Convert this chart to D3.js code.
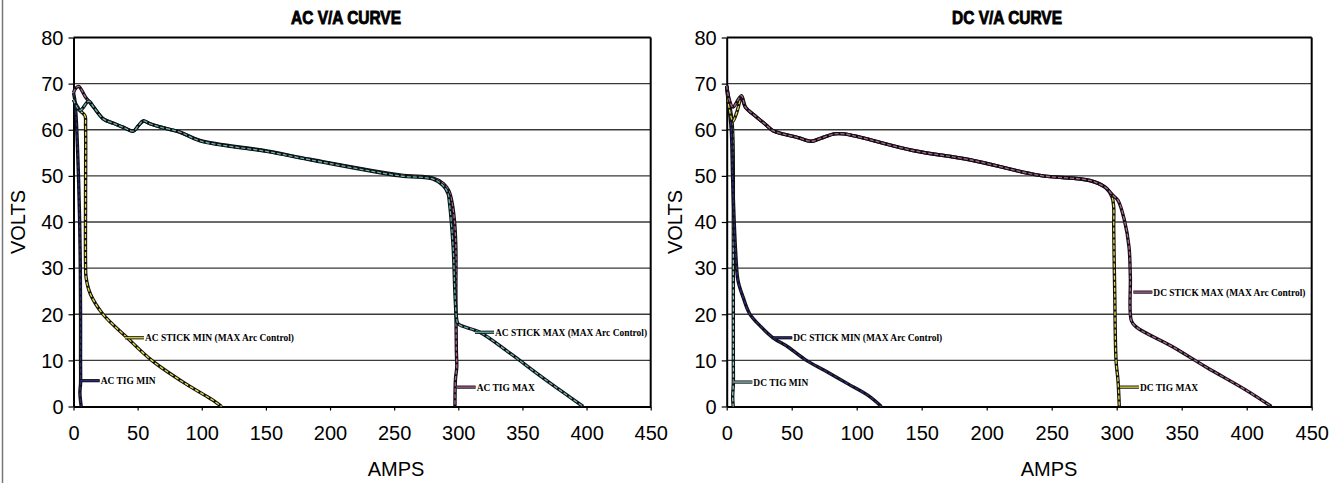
<!DOCTYPE html>
<html>
<head>
<meta charset="utf-8">
<script src="https://cdn.jsdelivr.net/npm/d3@7"></script>
<style>
  html, body { margin: 0; padding: 0; background: #fff; }
  svg { display: block; }
  .tick text { font-family: "Liberation Sans", Arial, sans-serif; font-size: 20px; fill: #000; }
</style>
</head>
<body>
<svg id="chart" width="1344" height="483"></svg>
<script>
// Axis ticks shared by both panels
const ampTicks = [0, 50, 100, 150, 200, 250, 300, 350, 400, 450];
const voltTicks = [0, 10, 20, 30, 40, 50, 60, 70, 80];

// AC panel — [amps, volts]
const acTigMin = [[0,68],[1,66.5],[2,63],[3,57],[4,49],[4.8,40],[5.3,30],[5.5,20],[5.5,10],[5.5,5],[5,3],[6,0]];
const acStickMin = [[0,66.5],[5,64.2],[9,63],[9.4,61],[9.4,45],[9.4,31],[9.8,28],[13,24.5],[23,20],[41.5,15],[61,10],[87,5],[105,2],[108,1.5],[115.5,0]];
const acTigMax = [[0,68],[1.5,68.9],[4,69.4],[9.3,67.1],[11.9,66.2],[15.7,64.9],[23.5,62.3],[31.2,61.4],[39,60.5],[46.7,59.7],[50.6,60.9],[54.5,61.9],[59.6,61.3],[67.4,60.6],[82.9,59.5],[98.6,57.7],[150.6,55.4],[184.3,53.6],[254.5,50.2],[280.4,49.5],[288.5,48.3],[292.5,46.8],[294.8,44.7],[297,40.3],[298.1,34.5],[298.1,24.4],[298.5,12],[298.8,8.5],[297.8,6],[297.4,0]];
const acStickMax = [[0,66.5],[5,64.2],[11.9,66.2],[15.7,64.9],[23.5,62.3],[31.2,61.4],[39,60.5],[46.7,59.7],[50.6,60.9],[54.5,61.9],[59.6,61.3],[67.4,60.6],[82.9,59.5],[98.6,57.6],[150.6,55.3],[184.3,53.5],[254.5,50],[280.4,49.3],[288.2,47.9],[292.1,46.1],[292.9,44.7],[296,34.5],[297.4,24.4],[298.7,19],[299.9,17.9],[316.8,16.1],[340,11.6],[363.6,6.7],[381,3.2],[397.3,0]];

// DC panel — [amps, volts]
const dcTigMin = [[0,69.5],[2,66],[4,62],[4.8,58],[5.1,50],[5.1,30],[5.1,10],[5.1,5],[4.6,2],[5,0]];
const dcStickMin = [[0,69.5],[2,64.2],[3.5,60],[4.5,50],[5.5,42],[7,33],[8.7,27.3],[12.6,23.7],[17.7,20.1],[26.7,17.2],[35.6,14.9],[47.2,12.9],[61.3,10],[75.4,7.8],[93.3,4.9],[108.7,2.4],[119,0]];
const dcTigMax = [[0,69.5],[2,64.5],[4.8,61.9],[8,64],[11.3,67],[14.4,64.9],[21.5,63.1],[29.2,61.3],[35.6,59.8],[44.6,59],[54.8,58.3],[65.1,57.5],[72.8,58.2],[83,59.1],[90,59.1],[102.3,58.4],[143.3,55.5],[186.9,53.5],[240.8,50.1],[279.2,49],[291.3,47.5],[296.4,45.4],[297.7,43.2],[297.7,38.9],[298.5,24.4],[299.5,10],[301,5.6],[302,0]];
const dcStickMax = [[0,69.5],[2,66.5],[4.8,64.9],[11.3,67.4],[14.4,64.9],[21.5,63.1],[29.2,61.3],[35.6,59.8],[44.6,59],[54.8,58.3],[65.1,57.5],[72.8,58.2],[83,59.1],[90,59.1],[102.3,58.4],[143.3,55.5],[186.9,53.5],[240.8,50.1],[279.2,49],[291.3,47.5],[297,45.8],[301,44.7],[306,40.3],[309.5,34.5],[310.5,28],[311.3,18.6],[315.2,17.2],[343.3,12.9],[369,8.5],[399.8,3.5],[419,0]];

// Series names, in drawing order
const acNames = ["AC TIG MIN", "AC STICK MIN (MAX Arc Control)", "AC TIG MAX", "AC STICK MAX (MAX Arc Control)"];
const dcNames = ["DC TIG MIN", "DC STICK MIN (MAX Arc Control)", "DC TIG MAX", "DC STICK MAX (MAX Arc Control)"];

// Where each series' callout leader leaves its curve — [amps, volts]
const acCallouts = [[5.6,5.6],[40.1,14.9],[298.7,4.2],[313,16.1]];
const dcCallouts = [[5.1,5.3],[35.8,14.9],[302.5,4.2],[312.8,24.8]];

const svg = d3.select("#chart");

// outer frame edge
svg.append("line").attr("x1", 2.5).attr("x2", 2.5).attr("y1", 0).attr("y2", 483)
  .attr("stroke", "#777").attr("stroke-width", 1.5);

function drawPanel(opts) {
  const x = d3.scaleLinear().domain([0, 450]).range([opts.x0, opts.x1]);
  const y = d3.scaleLinear().domain([0, 80]).range([406.5, 37.5]);
  const g = svg.append("g");

  // horizontal gridlines
  g.selectAll("line.grid").data(voltTicks.filter(v => v > 0 && v < 80)).join("line")
    .attr("class", "grid")
    .attr("x1", x(0)).attr("x2", x(450))
    .attr("y1", d => y(d)).attr("y2", d => y(d))
    .attr("stroke", "#3a3a3a").attr("stroke-width", 1.4);

  // plot frame
  g.append("line").attr("x1", x(0)).attr("x2", x(450)).attr("y1", y(80)).attr("y2", y(80))
    .attr("stroke", "#000").attr("stroke-width", 2);
  g.append("line").attr("x1", x(450)).attr("x2", x(450)).attr("y1", y(80)).attr("y2", y(0))
    .attr("stroke", "#000").attr("stroke-width", 2);

  // axes
  const gx = g.append("g").attr("transform", `translate(0,${y(0)})`)
    .call(d3.axisBottom(x).tickValues(ampTicks).tickSize(4).tickPadding(15).tickSizeOuter(0));
  gx.select(".domain").attr("stroke", "#000").attr("stroke-width", 2);
  gx.selectAll(".tick line").attr("stroke", "#000").attr("stroke-width", 1.2);

  const gy = g.append("g").attr("transform", `translate(${x(0)},0)`)
    .call(d3.axisLeft(y).tickValues(voltTicks).tickSize(5).tickPadding(5).tickSizeOuter(0));
  gy.select(".domain").attr("stroke", "#000").attr("stroke-width", 2);
  gy.selectAll(".tick line").attr("stroke", "#000").attr("stroke-width", 1.2);
  gy.selectAll(".tick text").attr("dy", "0.34em");

  // axis titles
  g.append("text").attr("x", opts.ampsX).attr("y", 475.5).attr("text-anchor", "middle")
    .style("font-family", "Liberation Sans, Arial, sans-serif").style("font-size", "20px")
    .text("AMPS");
  g.append("text").attr("transform", `translate(${opts.voltsX},222) rotate(-90)`)
    .attr("text-anchor", "middle").attr("dy", "0.35em")
    .style("font-family", "Liberation Sans, Arial, sans-serif").style("font-size", "20px")
    .text("VOLTS");

  // chart title, heavy and condensed
  g.append("text").attr("x", opts.titleX).attr("y", 24)
    .attr("textLength", 110).attr("lengthAdjust", "spacingAndGlyphs")
    .style("font-family", "Liberation Sans, Arial, sans-serif").style("font-size", "19px")
    .style("font-weight", "bold").attr("stroke", "#000").attr("stroke-width", 0.9)
    .text(opts.title);

  // curves: dark casing with a coloured core
  const line = d3.line().x(d => x(d[0])).y(d => y(d[1])).curve(d3.curveCatmullRom.alpha(0.5));
  opts.series.forEach((s, i) => {
    g.append("path").attr("d", line(s)).attr("fill", "none")
      .attr("stroke", "#111").attr("stroke-width", 3.4).attr("stroke-linejoin", "round");
    g.append("path").attr("d", line(s)).attr("fill", "none")
      .attr("stroke", opts.colors[i]).attr("stroke-width", 1.3)
      .attr("stroke-dasharray", "4,2").attr("stroke-linejoin", "round");
  });

  // callouts
  opts.callouts.forEach((c, i) => {
    const cx = x(c[0]), cy = y(c[1]);
    g.append("line").attr("x1", cx).attr("x2", cx + 19).attr("y1", cy).attr("y2", cy)
      .attr("stroke", "#111").attr("stroke-width", 3.2);
    g.append("line").attr("x1", cx).attr("x2", cx + 19).attr("y1", cy).attr("y2", cy)
      .attr("stroke", opts.colors[i]).attr("stroke-width", 1.3);
    g.append("text").attr("x", cx + 20).attr("y", cy).attr("dy", "0.35em")
      .style("font-family", "Liberation Serif, Times New Roman, serif").style("font-size", "10.5px")
      .style("font-weight", "bold").text(opts.names[i])
      .attr("textLength", function () { return this.getComputedTextLength() * 0.9; })
      .attr("lengthAdjust", "spacingAndGlyphs");
  });
}

drawPanel({
  x0: 73.5, x1: 650.7, title: "AC V/A CURVE", titleX: 291, ampsX: 396, voltsX: 17.5,
  series: [acTigMin, acStickMin, acTigMax, acStickMax],
  colors: ["#2b2b85", "#e6dc3c", "#b4609c", "#5fb4b8"],
  names: acNames, callouts: acCallouts
});

drawPanel({
  x0: 726.7, x1: 1311.7, title: "DC V/A CURVE", titleX: 952, ampsX: 1049, voltsX: 675,
  series: [dcTigMin, dcStickMin, dcTigMax, dcStickMax],
  colors: ["#8cc8c8", "#2b2b85", "#e6dc3c", "#b4609c"],
  names: dcNames, callouts: dcCallouts
});
</script>
</body>
</html>
